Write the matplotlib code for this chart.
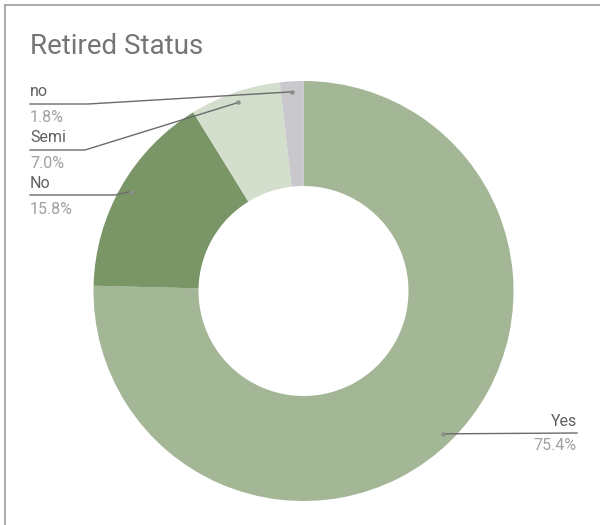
import numpy as np
import matplotlib
matplotlib.use("Agg")
import matplotlib.pyplot as plt
from matplotlib.lines import Line2D

# Retirement status breakdown (percent of respondents)
categories = ["Yes", "No", "Semi", "no"]
shares = [75.4, 15.8, 7.0, 1.8]
colors = ["#a3b695", "#7a9566", "#d4decc", "#c9c8cc"]

W, H = 600, 525
fig = plt.figure(figsize=(W / 100, H / 100), dpi=100)
ax = fig.add_axes([0, 0, 1, 1])

FONT = "Roboto"
cx, cy = 303.5, H - 291
R = 210

wedges, _ = ax.pie(
    shares, colors=colors, startangle=90, counterclock=False,
    radius=R, center=(cx, cy), frame=True,
    wedgeprops=dict(width=R * 0.5, linewidth=0),
)
ax.set_xlim(0, W)
ax.set_ylim(0, H)
ax.set_aspect("equal")
ax.axis("off")

# Frame around the chart area (top and left edges visible)
fig.add_artist(Line2D([4.5 / W, 4.5 / W], [0, 1 - 4.5 / H], color="#9e9e9e", lw=1.2))
fig.add_artist(Line2D([4.5 / W, 1], [1 - 4.5 / H, 1 - 4.5 / H], color="#9e9e9e", lw=1.2))

ax.text(30, H - 47, "Retired Status", fontsize=20, family=FONT,
        color="#757575", va="center", ha="left")

# Leader lines: anchor dot inside each slice, elbow, then underline of label
line_col = "#6b6b6b"
lab_col = "#5f5f5f"
pct_col = "#a0a0a0"

label_layout = {
    # name: (text x, label y, underline y, elbow x, align)
    "no":   (30, 92, 104, 88, "left"),
    "Semi": (30, 138, 150, 85, "left"),
    "No":   (30, 184, 195, 115, "left"),
    "Yes":  (577, 421, 433, 460, "right"),
}

angles = []
start = 90.0
for s in shares:
    sweep = s / 100 * 360
    angles.append(start - sweep / 2)
    start -= sweep

for name, share, ang in zip(categories, shares, angles):
    tx, ly, uy, ex, align = label_layout[name]
    rad = np.deg2rad(ang)
    px = cx + 0.95 * R * np.cos(rad)
    py = cy + 0.95 * R * np.sin(rad)
    if align == "left":
        ax.plot([tx, ex, px], [H - uy, H - uy, py], color=line_col, lw=1.0,
                solid_joinstyle="round")
    else:
        ax.plot([px, tx], [py, H - uy], color=line_col, lw=1.0)
    ax.plot([px], [py], "o", ms=3.2, color="#8a8f88", mec="none")
    ax.text(tx, H - ly, name, fontsize=11.5, family=FONT, color=lab_col,
            ha=align, va="center")
    ax.text(tx, H - ly - 25, f"{share:.1f}%", fontsize=11.5, family=FONT,
            color=pct_col, ha=align, va="center")

fig.savefig("out.png", dpi=100, facecolor="white")
